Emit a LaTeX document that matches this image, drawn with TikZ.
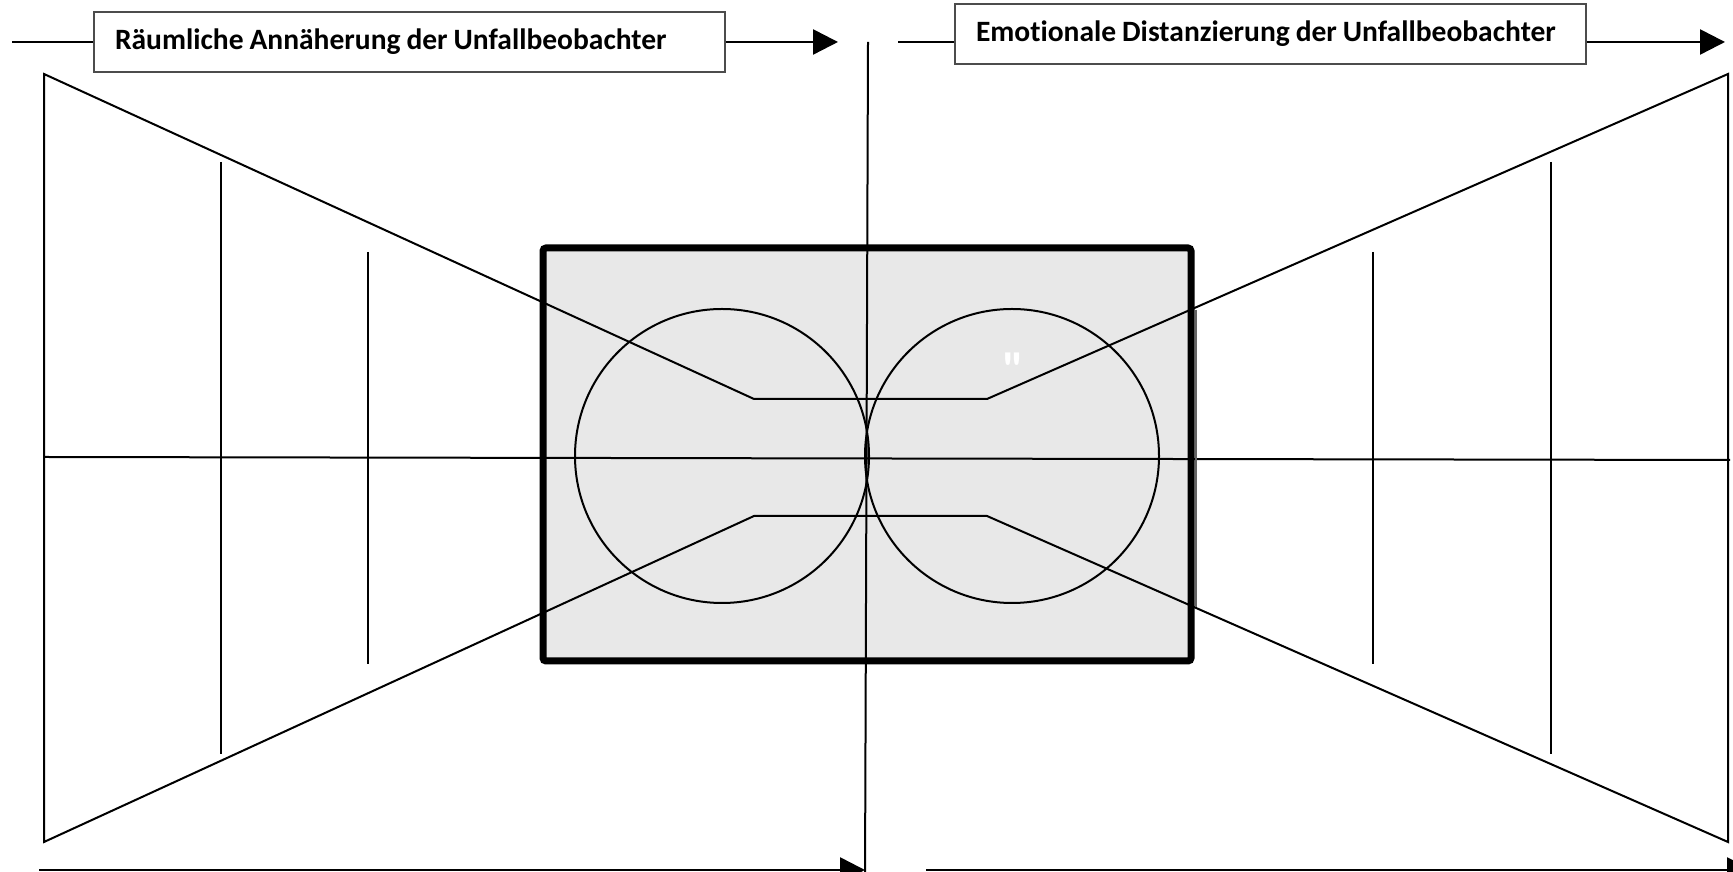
\documentclass[tikz,border=0pt]{standalone}
\usepackage{fontspec}
\setmainfont{Carlito}[Ligatures=NoCommon]
\newfontfamily\markfont{Carlito}
\usetikzlibrary{arrows.meta,positioning}
\newcommand\lbltext[1]{\spaceskip=0.2em\relax\mbox{#1}}

\begin{document}
\begin{tikzpicture}[
  x=0.1mm,y=-0.1mm,
  lbl/.style={draw=black!70,line width=0.15mm,fill=white,minimum width=63.1mm,minimum height=6mm,
              text width=58.9mm,inner xsep=2.1mm,font=\bfseries\fontsize{8.4}{10}\selectfont},
  zone/.style={draw,line width=0.7mm,rounded corners=0.3mm,fill=black!9,
               minimum width=64.8mm,minimum height=41.3mm},
  ring/.style={draw,circle,minimum size=29.4mm,inner sep=0pt,line width=0.2mm},
  thin/.style={line width=0.2mm},
  pfeil/.style={line width=0.25mm,->},
  >={Triangle[length=2.5mm,width=2.5mm]}]
\useasboundingbox (0,0) rectangle (1733,872);

% zone in the middle
\node[zone] (zone)   at (867,454.5) {};
\node[ring] (kreisL) at (722,456)  {};
\node[ring] (kreisR) at (1012,456) {};
\node[text=white,font=\markfont\bfseries\fontsize{14}{16}\selectfont] (marke) at (1013,370) {"};

% funnel
\coordinate (oL) at (44,74);
\coordinate (uL) at (44,842);
\coordinate (oR) at (1728,74);
\coordinate (uR) at (1728,842);
\coordinate (k1) at (754,399);
\coordinate (k2) at (987,399);
\coordinate (k3) at (754,516);
\coordinate (k4) at (987,516);
\draw[thin] (oL) -- (k1) -- (k2) -- (oR) -- (uR) -- (k4) -- (k3) -- (uL) -- cycle;

\coordinate (mL) at (44,457);
\coordinate (mR) at (1730,460);
\draw[thin] (mL) -- (mR);

\coordinate (achseO) at (868,42);
\coordinate (achseU) at (865,880);
\draw[thin] (achseO) -- (achseU);

\foreach \x/\a/\b in {221/162/754, 368/252/664, 1373/252/664, 1551/162/754}
  \draw[thin] (\x,\a) -- (\x,\b);

\draw[line width=0.25mm,black!60] (1196,310) -- (1196,607);

% labels on top
\node[lbl] (raum) at (409.5,42) {\lbltext{Räumliche Annäherung der Unfallbeobachter}};
\node[lbl] (emo)  at (1270.5,34) {\lbltext{Emotionale Distanzierung der Unfallbeobachter}};

\coordinate (raumA) at (12,42);
\coordinate (raumB) at (838,42);
\coordinate (emoA)  at (898,42);
\coordinate (emoB)  at (1725,42);
\draw[thin]  (raumA) -- (raumA -| raum.west);
\draw[pfeil] (raumB -| raum.east) -- (raumB);
\draw[thin]  (emoA) -- (emoA -| emo.west);
\draw[pfeil] (emoB -| emo.east) -- (emoB);

% arrows at the bottom
\coordinate (untenA) at (39,870);
\coordinate (untenB) at (865,870);
\coordinate (untenC) at (926,870);
\coordinate (untenD) at (1752,870);
\draw[pfeil] (untenA) -- (untenB);
\draw[pfeil] (untenC) -- (untenD);
\end{tikzpicture}
\end{document}
